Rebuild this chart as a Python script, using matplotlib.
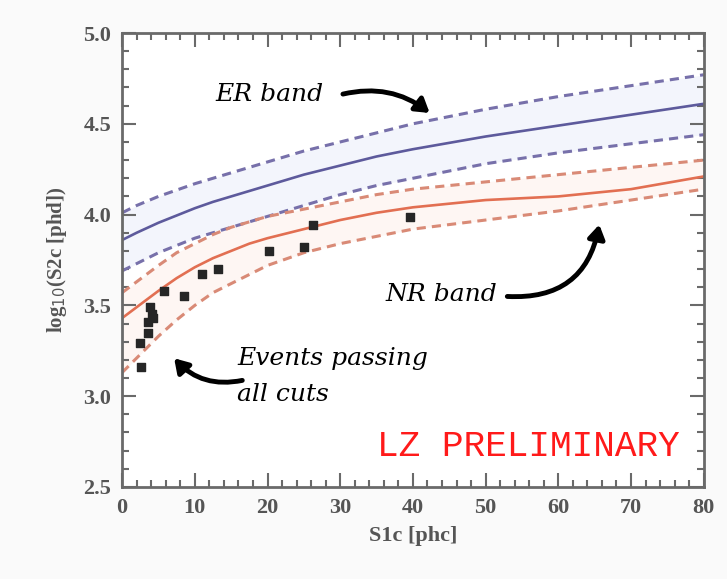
import matplotlib.pyplot as plt
from matplotlib.patches import FancyArrowPatch
from matplotlib.ticker import MultipleLocator

s1 = [0, 2, 5, 7.5, 10, 12.5, 15, 17.5, 20, 25, 30, 35, 40, 50, 60, 70, 80]

# electron-recoil band: upper / median / lower
er_hi = [4.01, 4.05, 4.10, 4.135, 4.17, 4.20, 4.23, 4.26, 4.29, 4.35, 4.40, 4.45, 4.50,
         4.58, 4.65, 4.71, 4.77]
er_mid = [3.86, 3.90, 3.955, 3.995, 4.035, 4.07, 4.10, 4.13, 4.16, 4.22, 4.27, 4.32, 4.36,
          4.43, 4.49, 4.55, 4.61]
er_lo = [3.69, 3.73, 3.79, 3.83, 3.87, 3.90, 3.93, 3.96, 3.99, 4.05, 4.11, 4.16, 4.20,
         4.28, 4.34, 4.39, 4.44]

# nuclear-recoil band: upper / median / lower
nr_hi = [3.57, 3.63, 3.72, 3.79, 3.84, 3.89, 3.93, 3.96, 3.99, 4.03, 4.07, 4.11, 4.14,
         4.18, 4.22, 4.26, 4.30]
nr_mid = [3.43, 3.49, 3.58, 3.65, 3.71, 3.76, 3.80, 3.84, 3.87, 3.92, 3.97, 4.01, 4.04,
          4.08, 4.10, 4.14, 4.21]
nr_lo = [3.13, 3.21, 3.33, 3.42, 3.50, 3.57, 3.62, 3.67, 3.72, 3.79, 3.84, 3.88, 3.92,
         3.97, 4.02, 4.08, 4.14]

# events surviving all cuts
ev_s1 = [2.5, 2.6, 3.6, 3.5, 4.1, 4.3, 3.9, 5.7, 8.5, 11.0, 13.2, 20.2, 25.0, 26.3, 39.6]
ev_s2 = [3.29, 3.16, 3.35, 3.41, 3.45, 3.43, 3.49, 3.58, 3.55, 3.67, 3.70, 3.80, 3.82, 3.94, 3.985]

blue = '#5d5a9c'
blue_d = '#7770aa'
red = '#e26f52'
red_d = '#d98a76'
gray = '#6a6a6a'

fig = plt.figure(figsize=(7.27, 5.79), dpi=100, facecolor='#fafafa')
ax = fig.add_axes([0.168, 0.159, 0.800, 0.784])
ax.set_facecolor('white')

ax.fill_between(s1, er_lo, er_hi, color='#f3f5fc', lw=0)
ax.fill_between(s1, nr_lo, nr_hi, color='#fef6f3', lw=0)

dash = (0, (3, 2))
ax.plot(s1, er_hi, color=blue_d, lw=2.2, ls=dash)
ax.plot(s1, er_mid, color=blue, lw=1.9)
ax.plot(s1, er_lo, color=blue_d, lw=2.2, ls=dash)
ax.plot(s1, nr_hi, color=red_d, lw=2.2, ls=dash)
ax.plot(s1, nr_mid, color=red, lw=1.9)
ax.plot(s1, nr_lo, color=red_d, lw=2.2, ls=dash)

ax.scatter(ev_s1, ev_s2, marker='s', s=38, color='#262626', zorder=5)

ax.set_xlim(0, 80)
ax.set_ylim(2.5, 5.0)
ax.xaxis.set_major_locator(MultipleLocator(10))
ax.xaxis.set_minor_locator(MultipleLocator(2))
ax.yaxis.set_major_locator(MultipleLocator(0.5))
ax.yaxis.set_minor_locator(MultipleLocator(0.1))
ax.tick_params(which='both', direction='in', top=True, right=True, color=gray, width=1.5)
ax.tick_params(which='major', length=10, labelsize=16, labelcolor='#555555', pad=8)
ax.tick_params(which='minor', length=5)
for lab in ax.get_xticklabels() + ax.get_yticklabels():
    lab.set_family('Liberation Serif')
    lab.set_weight('bold')
for sp in ax.spines.values():
    sp.set_color(gray)
    sp.set_linewidth(2)

ax.set_xlabel('S1c [phc]', fontsize=16, family='Liberation Serif', weight='bold',
              color='#555555', labelpad=6)
ax.set_ylabel(r'log$_{10}$(S2c [phd])', fontsize=15, family='Liberation Serif',
              weight='bold', color='#555555', labelpad=10)

note = dict(family='DejaVu Serif', style='italic', fontsize=18, color='black')
ax.text(12.8, 4.66, 'ER band', va='center', ha='left', **note)
ax.text(36.2, 3.56, 'NR band', va='center', ha='left', **note)
ax.text(15.8, 3.21, 'Events passing', va='center', ha='left', **note)
ax.text(15.8, 3.01, 'all cuts', va='center', ha='left', **note)

arrows = [
    ((30.0, 4.66), (42.6, 4.55), 'arc3,rad=-0.25'),
    ((52.6, 3.55), (65.7, 3.96), 'arc3,rad=0.45'),
    ((16.9, 3.09), (6.9, 3.22), 'arc3,rad=-0.3'),
]
for start, end, style in arrows:
    arr = FancyArrowPatch(start, end, connectionstyle=style,
                          arrowstyle='-|>,head_length=8,head_width=5',
                          color='black', lw=3.5, zorder=6)
    ax.add_patch(arr)

ax.text(35.0, 2.72, 'LZ PRELIMINARY', family='Liberation Mono', fontsize=26,
        color='#ff1a1a', va='center', ha='left')

fig.savefig('out.png', dpi=100, facecolor=fig.get_facecolor())
